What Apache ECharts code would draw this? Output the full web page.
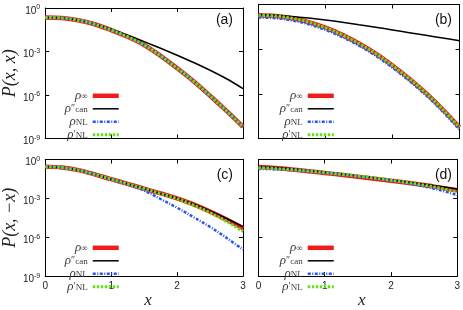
<!DOCTYPE html>
<html><head><meta charset="utf-8">
<script src="https://cdn.jsdelivr.net/npm/echarts@6/dist/echarts.min.js"></script>
<style>html,body{margin:0;padding:0;background:#fff}#c{width:463px;height:310px}</style>
</head><body><div id="c"></div>
<script>
// ---- data (log10 of P) ----
const xs = [0, 0.25, 0.5, 0.75, 1, 1.25, 1.5, 1.75, 2, 2.25, 2.5, 2.75, 3];
const xTickValues = [0, 1, 2, 3];
const xTickLabels = ['0', '1', '2', '3'];
const yTickExps = [0, -3, -6, -9];
const panelLabels = ['(a)', '(b)', '(c)', '(d)'];
const seriesNames = ['ρ∞', 'ρ″can', 'ρNL', 'ρ′NL'];
const yTitles = ['P(x, x)', 'P(x, −x)'];
const xTitle = 'x';

// panel (a) P(x,x)
const a_inf  = [-0.65, -0.69, -0.84, -1.12, -1.52, -1.98, -2.55, -3.30, -4.15, -5.05, -6.05, -7.10, -8.20];
const a_can  = [-0.65, -0.69, -0.84, -1.11, -1.47, -1.88, -2.32, -2.78, -3.26, -3.76, -4.29, -4.88, -5.56];
const a_NL   = [-0.65, -0.69, -0.84, -1.12, -1.52, -1.98, -2.55, -3.30, -4.15, -5.05, -6.05, -7.10, -8.20];
const a_NLp  = [-0.65, -0.69, -0.84, -1.12, -1.52, -1.98, -2.55, -3.30, -4.15, -5.05, -6.05, -7.10, -8.20];
// panel (b) P(x,x)
const b_inf  = [-0.72, -0.77, -0.92, -1.18, -1.56, -2.04, -2.62, -3.30, -4.10, -4.98, -5.95, -7.05, -8.25];
const b_can  = [-0.68, -0.72, -0.80, -0.91, -1.04, -1.19, -1.36, -1.53, -1.71, -1.89, -2.07, -2.25, -2.43];
const b_NL   = [-0.87, -0.92, -1.07, -1.33, -1.71, -2.19, -2.77, -3.45, -4.25, -5.13, -6.10, -7.20, -8.40];
const b_NLp  = [-0.72, -0.77, -0.92, -1.18, -1.56, -2.04, -2.62, -3.30, -4.10, -4.98, -5.95, -7.05, -8.25];
// panel (c) P(x,-x)
const c_inf  = [-0.55, -0.62, -0.82, -1.15, -1.52, -1.88, -2.25, -2.62, -3.00, -3.47, -4.02, -4.63, -5.30];
const c_can  = [-0.55, -0.62, -0.82, -1.15, -1.52, -1.88, -2.25, -2.62, -2.99, -3.44, -3.97, -4.55, -5.18];
const c_NL   = [-0.55, -0.62, -0.82, -1.15, -1.53, -1.93, -2.40, -3.05, -3.72, -4.45, -5.20, -6.05, -6.95];
const c_NLp  = [-0.55, -0.62, -0.82, -1.15, -1.52, -1.88, -2.25, -2.63, -3.02, -3.52, -4.10, -4.78, -5.55];
// panel (d) P(x,-x)
const d_inf  = [-0.58, -0.66, -0.77, -0.90, -1.04, -1.18, -1.33, -1.48, -1.64, -1.80, -1.97, -2.17, -2.38];
const d_can  = [-0.55, -0.62, -0.72, -0.85, -0.98, -1.12, -1.27, -1.42, -1.58, -1.74, -1.91, -2.09, -2.27];
const d_NL   = [-0.72, -0.76, -0.83, -0.92, -1.03, -1.15, -1.29, -1.45, -1.63, -1.84, -2.08, -2.38, -2.75];
const d_NLp  = [-0.63, -0.70, -0.78, -0.89, -1.01, -1.14, -1.28, -1.43, -1.60, -1.78, -1.98, -2.22, -2.50];

const panels = [
  [a_inf, a_can, a_NL, a_NLp],
  [b_inf, b_can, b_NL, b_NLp],
  [c_inf, c_can, c_NL, c_NLp],
  [d_inf, d_can, d_NL, d_NLp]
];

// ---- styling / layout ----
const SANS = '"Liberation Sans", Arial, sans-serif';
const SERIF = '"Liberation Serif", "Times New Roman", serif';
const lineStyles = [
  {color: '#f01c1c', width: 4.5, type: 'solid'},
  {color: '#000000', width: 1.5, type: 'solid'},
  {color: '#2a55f5', width: 2.5, type: [3, 1.5, 1, 1.5]},
  {color: '#66dd1e', width: 3, type: [2.5, 1.5]}
];
const grids = [
  {left: 43, top: 4.5, width: 200, height: 134},
  {left: 258.5, top: 4.5, width: 201, height: 134},
  {left: 43, top: 159.5, width: 200, height: 133},
  {left: 258.5, top: 159.5, width: 201, height: 133}
];
const legendPos = [
  {right: 342, top: 89.3},
  {right: 127, top: 89.3},
  {right: 342, top: 241.3},
  {right: 127, top: 241.3}
];
const titlePos = [
  {right: 230, top: 13},
  {right: 11, top: 13},
  {right: 230, top: 168},
  {right: 11, top: 168}
];

const legendFmt = {
  'ρ∞': '{r|ρ}{s|∞}',
  'ρ″can': '{r|ρ}{p|″}{s|can}',
  'ρNL': '{r|ρ}{s|NL}',
  'ρ′NL': '{r|ρ}{p|′}{s|NL}'
};

const xAxes = [], yAxes = [], series = [], legends = [], titles = [];
grids.forEach((g, gi) => {
  const bottomRow = gi >= 2, leftCol = gi % 2 === 0;
  const axLine = {show: true, onZero: false, lineStyle: {color: '#000', width: 1}};
  const axTick = {show: true, inside: true, length: 4, lineStyle: {color: '#000', width: 1}};
  xAxes.push({
    type: 'value', gridIndex: gi, position: 'bottom', min: 0, max: 3, interval: 1,
    axisLine: axLine, axisTick: axTick, splitLine: {show: false},
    axisLabel: {show: bottomRow, margin: 5, fontSize: 10, color: '#222', fontFamily: SANS,
      formatter: v => xTickLabels[xTickValues.indexOf(v)]},
    name: bottomRow ? xTitle : '', nameLocation: 'middle', nameGap: 5,
    nameTextStyle: {fontFamily: SERIF, fontStyle: 'italic', fontSize: 17, color: '#222',
      verticalAlign: 'top', padding: [0, 0, 0, 8]}
  });
  xAxes.push({
    type: 'value', gridIndex: gi, position: 'top', min: 0, max: 3, interval: 1,
    axisLine: axLine, axisTick: axTick, splitLine: {show: false}, axisLabel: {show: false}
  });
  yAxes.push({
    type: 'log', logBase: 10, gridIndex: gi, position: 'left', min: 1e-9, max: 1, interval: 3,
    axisLine: axLine, axisTick: axTick, splitLine: {show: false},
    axisLabel: {show: leftCol, margin: 5, color: '#222',
      formatter: v => '{b|10}{s|' + Math.round(Math.log10(v)) + '}',
      rich: {
        b: {fontSize: 10, lineHeight: 10, padding: [6, 0, 0, 0], fontFamily: SANS, color: '#222'},
        s: {fontSize: 7, lineHeight: 7, padding: [4, 0, 5, 0], fontFamily: SANS, color: '#222'}
      }},
    name: leftCol ? yTitles[bottomRow ? 1 : 0] : '', nameLocation: 'middle', nameRotate: 90, nameGap: 22,
    nameTextStyle: {fontFamily: SERIF, fontStyle: 'italic', fontSize: 18, color: '#222'}
  });
  yAxes.push({
    type: 'log', logBase: 10, gridIndex: gi, position: 'right', min: 1e-9, max: 1, interval: 3,
    axisLine: axLine, axisTick: axTick, splitLine: {show: false}, axisLabel: {show: false}
  });
  panels[gi].forEach((arr, si) => {
    series.push({
      type: 'line', name: seriesNames[si], xAxisIndex: 2 * gi, yAxisIndex: 2 * gi,
      data: xs.map((x, i) => [x, Math.pow(10, arr[i])]),
      smooth: 0.35, symbol: 'none', showSymbol: false,
      lineStyle: lineStyles[si], itemStyle: {color: lineStyles[si].color},
      z: 2 + si, silent: true, animation: false
    });
  });
  legends.push(Object.assign({
    orient: 'vertical', align: 'right', padding: 0, itemGap: 0,
    itemWidth: 26, itemHeight: 11.5, selectedMode: false,
    itemStyle: {opacity: 0, borderWidth: 0},
    data: seriesNames.map((n, si) => ({
      name: n,
      lineStyle: {color: lineStyles[si].color, width: lineStyles[si].width, type: lineStyles[si].type}
    })),
    formatter: n => legendFmt[n],
    textStyle: {color: '#333', rich: {
      r: {fontFamily: SERIF, fontStyle: 'italic', fontSize: 13, lineHeight: 11.5, color: '#3a3a3a'},
      s: {fontFamily: SERIF, fontSize: 9, lineHeight: 6, verticalAlign: 'bottom', color: '#3a3a3a'},
      p: {fontFamily: SERIF, fontSize: 10, lineHeight: 6, verticalAlign: 'top', color: '#3a3a3a'}
    }}
  }, legendPos[gi]));
  titles.push(Object.assign({
    text: panelLabels[gi], padding: 0,
    textStyle: {fontFamily: SANS, fontSize: 14, fontWeight: 'normal', color: '#111'}
  }, titlePos[gi]));
});

const chart = echarts.init(document.getElementById('c'), null, {renderer: 'canvas'});
chart.setOption({
  animation: false,
  backgroundColor: '#fff',
  title: titles,
  legend: legends,
  grid: grids,
  xAxis: xAxes,
  yAxis: yAxes,
  series: series
});
</script>
</body></html>
